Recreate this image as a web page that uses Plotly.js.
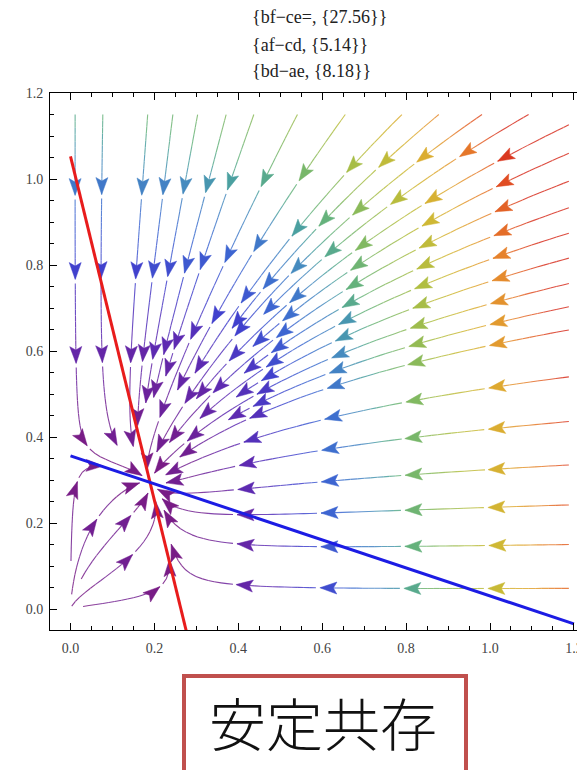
<!DOCTYPE html>
<html><head><meta charset="utf-8">
<script src="https://cdn.plot.ly/plotly-3.0.1.min.js"></script>
<style>html,body{margin:0;padding:0;background:#fff;} #chart{width:577px;height:770px;}</style>
</head><body><div id="chart"></div>
<script>
// ---------------- data ----------------
const summaryLabels = ['bf\u2212ce=', 'af\u2212cd', 'bd\u2212ae'];
const summaryValues = [27.56, 5.14, 8.18];
// competition model: dx/dt = x (a - b x - c y), dy/dt = y (d - e x - f y)
const coefX = [2.0, 7.6, 1.9];    // a, b, c  (red nullcline)
const coefY = [1.4, 1.28, 3.93];  // d, e, f  (blue nullcline)
const xTicks = [0, 0.2, 0.4, 0.6, 0.8, 1.0, 1.2];
const yTicks = [0, 0.2, 0.4, 0.6, 0.8, 1.0, 1.2];
// streamline start points seen in the picture
const topSeedX = [0.011, 0.077, 0.184, 0.244, 0.303, 0.371, 0.437, 0.541, 0.655, 0.790, 0.878, 0.981, 1.092];
const topSeedY = 1.15;
const rightSeedX = 1.188;
const rightSeedY = [1.126, 1.060, 0.995, 0.933, 0.874, 0.816, 0.757, 0.703, 0.649, 0.540, 0.436, 0.335, 0.242, 0.150, 0.048];
// first arrowheads of the streamlines that rise from near the origin
const innerArrowX = [0.134, 0.213, 0.054, 0.015, 0.138];
const innerArrowY = [0.114, 0.052, 0.195, 0.292, 0.211];
const caption = '安定共存';

// ---------------- geometry ----------------
const W = 577, H = 770;
const M = {l: 50, r: 0, t: 93, b: 140};
const plotW = W - M.l - M.r, plotH = H - M.t - M.b;
const xRange = [-0.0489, 1.2074], yRange = [-0.0488, 1.2001];
const kx = plotW / (xRange[1] - xRange[0]), ky = plotH / (yRange[1] - yRange[0]);
const toPX = x => (x - xRange[0]) * kx, toPY = y => (yRange[1] - y) * ky;
const fromPX = p => xRange[0] + p / kx, fromPY = p => yRange[1] - p / ky;

const [a, b, c] = coefX, [d, e, f] = coefY;
function field(x, y) { return [x * (a - b * x - c * y), y * (d - e * x - f * y)]; }
const det = b * f - c * e;
const xs = (a * f - c * d) / det, ys = (b * d - a * e) / det;
const eqPX = toPX(xs), eqPY = toPY(ys);

const dom = {x0: 0, x1: 1.2, y0: 0, y1: 1.16};
const dStop = 7, dSeed = 9, dGap = 32, rEq = 10;
const first = 80, spacing = 84, tailMin = 26, gapAfterTip = 4;
const arrowL = 17, arrowW = 6, arrowNotch = 3.5;
const Smax = 9.5;

function dirAt(x, y, sgn) {
  const [fx, fy] = field(x, y);
  const vx = fx * kx, vy = -fy * ky;
  const m = Math.hypot(vx, vy);
  if (m < 1e-9) return null;
  return [sgn * vx / m, sgn * vy / m];
}
function step(x, y, h, sgn) {
  const d1 = dirAt(x, y, sgn); if (!d1) return null;
  const mx = x + d1[0] * h / 2 / kx, my = y - d1[1] * h / 2 / ky;
  const d2 = dirAt(mx, my, sgn); if (!d2) return null;
  return [x + d2[0] * h / kx, y - d2[1] * h / ky];
}

const cell = 6, grid = new Map();
function addPts(pts, id) {
  for (const p of pts) {
    const px = toPX(p[0]), py = toPY(p[1]);
    const k = Math.floor(px / cell) + ',' + Math.floor(py / cell);
    if (!grid.has(k)) grid.set(k, []);
    grid.get(k).push([px, py, id]);
  }
}
function minDist(px, py, id, r) {
  const i0 = Math.floor((px - r) / cell), i1 = Math.floor((px + r) / cell);
  const j0 = Math.floor((py - r) / cell), j1 = Math.floor((py + r) / cell);
  let best = Infinity;
  for (let i = i0; i <= i1; i++) for (let j = j0; j <= j1; j++) {
    const arr = grid.get(i + ',' + j); if (!arr) continue;
    for (const q of arr) { if (q[2] === id) continue; const dd = Math.hypot(q[0] - px, q[1] - py); if (dd < best) best = dd; }
  }
  return best;
}
function trace(x, y, sgn, id, maxLen, yMin) {
  const pts = [[x, y]]; let len = 0; const h = 1.0;
  const ylo = (yMin === undefined) ? dom.y0 - 1e-4 : yMin;
  while (len < maxLen) {
    const n = step(x, y, h, sgn); if (!n) break;
    [x, y] = n;
    if (x < dom.x0 - 1e-4 || x > dom.x1 || y < ylo || y > dom.y1) break;
    const px = toPX(x), py = toPY(y);
    if (sgn > 0 && Math.hypot(px - eqPX, py - eqPY) < rEq) break;
    if (sgn < 0 && Math.hypot(px - toPX(0), py - toPY(0)) < 3) break;
    if (minDist(px, py, id, dStop) < dStop) break;
    pts.push([x, y]); len += h;
  }
  return pts;
}

const lines = []; let lid = 0;
function addLine(pts) { if (pts.length < 22) return; lines.push(pts); addPts(pts, lid); lid++; }
const seeds = [];
topSeedX.forEach(x => seeds.push([x, topSeedY]));
rightSeedY.forEach(y => seeds.push([rightSeedX, y]));
for (const s of seeds) {
  if (minDist(toPX(s[0]), toPY(s[1]), -1, dSeed) < dSeed) continue;
  addLine(trace(s[0], s[1], 1, lid, 2500));
}
// lines through the first arrowheads seen near the origin
innerArrowX.forEach((x, i) => {
  const y = innerArrowY[i];
  if (minDist(toPX(x), toPY(y), -1, dSeed) < dSeed) return;
  const back = trace(x, y, -1, lid, first).reverse();
  const fwd = trace(x, y, 1, lid, 2500);
  addLine(back.concat(fwd.slice(1)));
});
// fill remaining empty areas
for (let gy = 12; gy < plotH; gy += 18) for (let gx = 12; gx < plotW; gx += 18) {
  const x = fromPX(gx), y = fromPY(gy);
  if (x < dom.x0 || x > dom.x1 || y < 0.02 || y > dom.y1) continue;
  if (minDist(gx, gy, -1, dGap) < dGap) continue;
  const back = trace(x, y, -1, lid, 120, 0.02).reverse();
  const fwd = trace(x, y, 1, lid, 2500);
  addLine(back.concat(fwd.slice(1)));
}

// ---------------- colours ----------------
const stops = [
  [0.00, [120, 28, 134]], [0.08, [95, 40, 175]], [0.15, [65, 65, 205]], [0.22, [60, 105, 210]],
  [0.30, [70, 140, 190]], [0.34, [75, 160, 160]], [0.38, [100, 178, 125]], [0.46, [135, 186, 92]],
  [0.55, [175, 190, 65]], [0.63, [205, 185, 52]], [0.72, [222, 170, 48]], [0.82, [230, 135, 45]],
  [0.92, [226, 85, 36]], [1.00, [215, 45, 30]]];
function colorAt(u, lighten) {
  u = Math.max(0, Math.min(1, u));
  let rgb = stops[stops.length - 1][1];
  for (let i = 1; i < stops.length; i++) {
    if (u <= stops[i][0]) {
      const [u0, c0] = stops[i - 1], [u1, c1] = stops[i];
      const t = (u - u0) / (u1 - u0);
      rgb = c0.map((v, k) => v + (c1[k] - v) * t);
      break;
    }
  }
  const w = lighten || 0;
  return 'rgb(' + rgb.map(v => Math.round(v + (255 - v) * w)).join(',') + ')';
}
const NB = 48;
const binLines = Array.from({length: NB}, () => ({x: [], y: []}));
const binArrows = Array.from({length: NB}, () => ({x: [], y: []}));
function speedBin(x, y) { const [fx, fy] = field(x, y); return Math.round(Math.min(1, Math.hypot(fx, fy) / Smax) * (NB - 1)); }

for (const pts of lines) {
  const P = pts.map(p => [toPX(p[0]), toPY(p[1])]);
  const s = [0];
  for (let i = 1; i < P.length; i++) s.push(s[i - 1] + Math.hypot(P[i][0] - P[i - 1][0], P[i][1] - P[i - 1][1]));
  const total = s[s.length - 1];
  const tips = [];
  for (let t = first; t <= total; t += spacing) tips.push(t);
  let end = total;
  const lastTip = tips.length ? tips[tips.length - 1] : 0;
  if (total - lastTip > tailMin) tips.push(total);
  else if (tips.length) end = lastTip;
  for (const t of tips) {
    let i = 0; while (i < s.length - 1 && s[i] < t) i++;
    const [x, y] = pts[i];
    const u = dirAt(x, y, 1) || [P[i][0] - P[Math.max(0, i - 3)][0], P[i][1] - P[Math.max(0, i - 3)][1]];
    const m = Math.hypot(u[0], u[1]) || 1; const ux = u[0] / m, uy = u[1] / m;
    const nx = -uy, ny = ux; const T = P[i];
    const poly = [T, [T[0] - arrowL * ux + arrowW * nx, T[1] - arrowL * uy + arrowW * ny],
      [T[0] - (arrowL - arrowNotch) * ux, T[1] - (arrowL - arrowNotch) * uy],
      [T[0] - arrowL * ux - arrowW * nx, T[1] - arrowL * uy - arrowW * ny], T];
    const cx = T[0] - arrowL * 0.5 * ux, cy = T[1] - arrowL * 0.5 * uy;
    const B = binArrows[speedBin(fromPX(cx), fromPY(cy))];
    poly.forEach(q => { B.x.push(fromPX(q[0])); B.y.push(fromPY(q[1])); });
    B.x.push(null); B.y.push(null);
  }
  let piece = [];
  const flush = () => {
    if (piece.length > 1) {
      const mid = pts[piece[Math.floor(piece.length / 2)]];
      const L = binLines[speedBin(mid[0], mid[1])];
      piece.forEach(k => { L.x.push(pts[k][0]); L.y.push(pts[k][1]); });
      L.x.push(null); L.y.push(null);
    }
  };
  for (let i = 0; i < pts.length && s[i] <= end + 0.01; i++) {
    const inGap = tips.some(t => s[i] > t + 0.01 && s[i] < t + gapAfterTip);
    if (inGap) { flush(); piece = []; continue; }
    piece.push(i);
    if (s[i] - s[piece[0]] >= 6) { flush(); piece = [i]; }
  }
  flush();
}

const traces = [];
binLines.forEach((B, k) => { if (B.x.length) traces.push({type: 'scatter', mode: 'lines', x: B.x, y: B.y, connectgaps: false,
  line: {color: colorAt(k / (NB - 1), 0.15), width: 1.1}, hoverinfo: 'skip', showlegend: false}); });
binArrows.forEach((B, k) => { if (B.x.length) traces.push({type: 'scatter', mode: 'lines', x: B.x, y: B.y, fill: 'toself',
  fillcolor: colorAt(k / (NB - 1)), line: {color: colorAt(k / (NB - 1)), width: 0.5}, hoverinfo: 'skip', showlegend: false}); });
// nullclines
const redX = [0, (a / b) * (1 - yRange[0] * c / a) + 0.01];
traces.push({type: 'scatter', mode: 'lines', x: redX, y: redX.map(x => (a - b * x) / c),
  line: {color: 'rgb(232,28,28)', width: 3}, hoverinfo: 'skip', showlegend: false});
const blueX = [0, 1.2];
traces.push({type: 'scatter', mode: 'lines', x: blueX, y: blueX.map(x => (d - e * x) / f),
  line: {color: 'rgb(28,28,228)', width: 3}, hoverinfo: 'skip', showlegend: false});

const tickFont = {family: 'Liberation Serif, Times New Roman, serif', size: 14, color: '#444'};
const axisCommon = {showgrid: false, zeroline: false, showline: true, linecolor: '#000', linewidth: 1,
  ticks: 'inside', ticklen: 7, tickwidth: 1, tickcolor: '#000', tickfont: tickFont,
  minor: {tickmode: 'linear', tick0: 0, dtick: 0.05, ticks: 'inside', ticklen: 4, tickwidth: 1, tickcolor: '#000'}};
const annotations = summaryLabels.map((lab, i) => ({
  xref: 'paper', yref: 'paper', x: (250 - M.l) / plotW, y: (M.t + plotH - [17, 45, 71][i]) / plotH,
  xanchor: 'left', yanchor: 'middle', showarrow: false,
  text: '{' + lab + ', {' + summaryValues[i] + '}}',
  font: {family: 'Liberation Serif, Times New Roman, serif', size: 18, color: '#222'}}));
annotations.push({xref: 'paper', yref: 'paper', x: (323 - M.l) / plotW, y: (M.t + plotH - 721) / plotH,
  xanchor: 'center', yanchor: 'middle', showarrow: false, text: caption,
  font: {family: 'Noto Sans CJK JP, Noto Sans CJK SC, sans-serif', size: 57, color: '#111', weight: 300}});

const layout = {
  width: W, height: H, margin: M, paper_bgcolor: '#fff', plot_bgcolor: '#fff', showlegend: false, hovermode: false,
  xaxis: Object.assign({}, axisCommon, {range: xRange, tickmode: 'array', tickvals: xTicks, ticktext: xTicks.map(v => v.toFixed(1)),
    mirror: 'allticks', ticklabeloverflow: 'allow', ticklabelstandoff: 5}),
  yaxis: Object.assign({}, axisCommon, {range: yRange, tickmode: 'array', tickvals: yTicks, ticktext: yTicks.map(v => v.toFixed(1)),
    mirror: false, ticklabelstandoff: 3}),
  annotations: annotations,
  shapes: [{type: 'rect', xref: 'paper', yref: 'paper', x0: (184 - M.l) / plotW, x1: (466 - M.l) / plotW,
    y0: (M.t + plotH - 676) / plotH, y1: (M.t + plotH - 800) / plotH, line: {color: 'rgb(192,80,77)', width: 4}}]
};
Plotly.newPlot('chart', traces, layout, {staticPlot: true, displayModeBar: false});
</script></body></html>
